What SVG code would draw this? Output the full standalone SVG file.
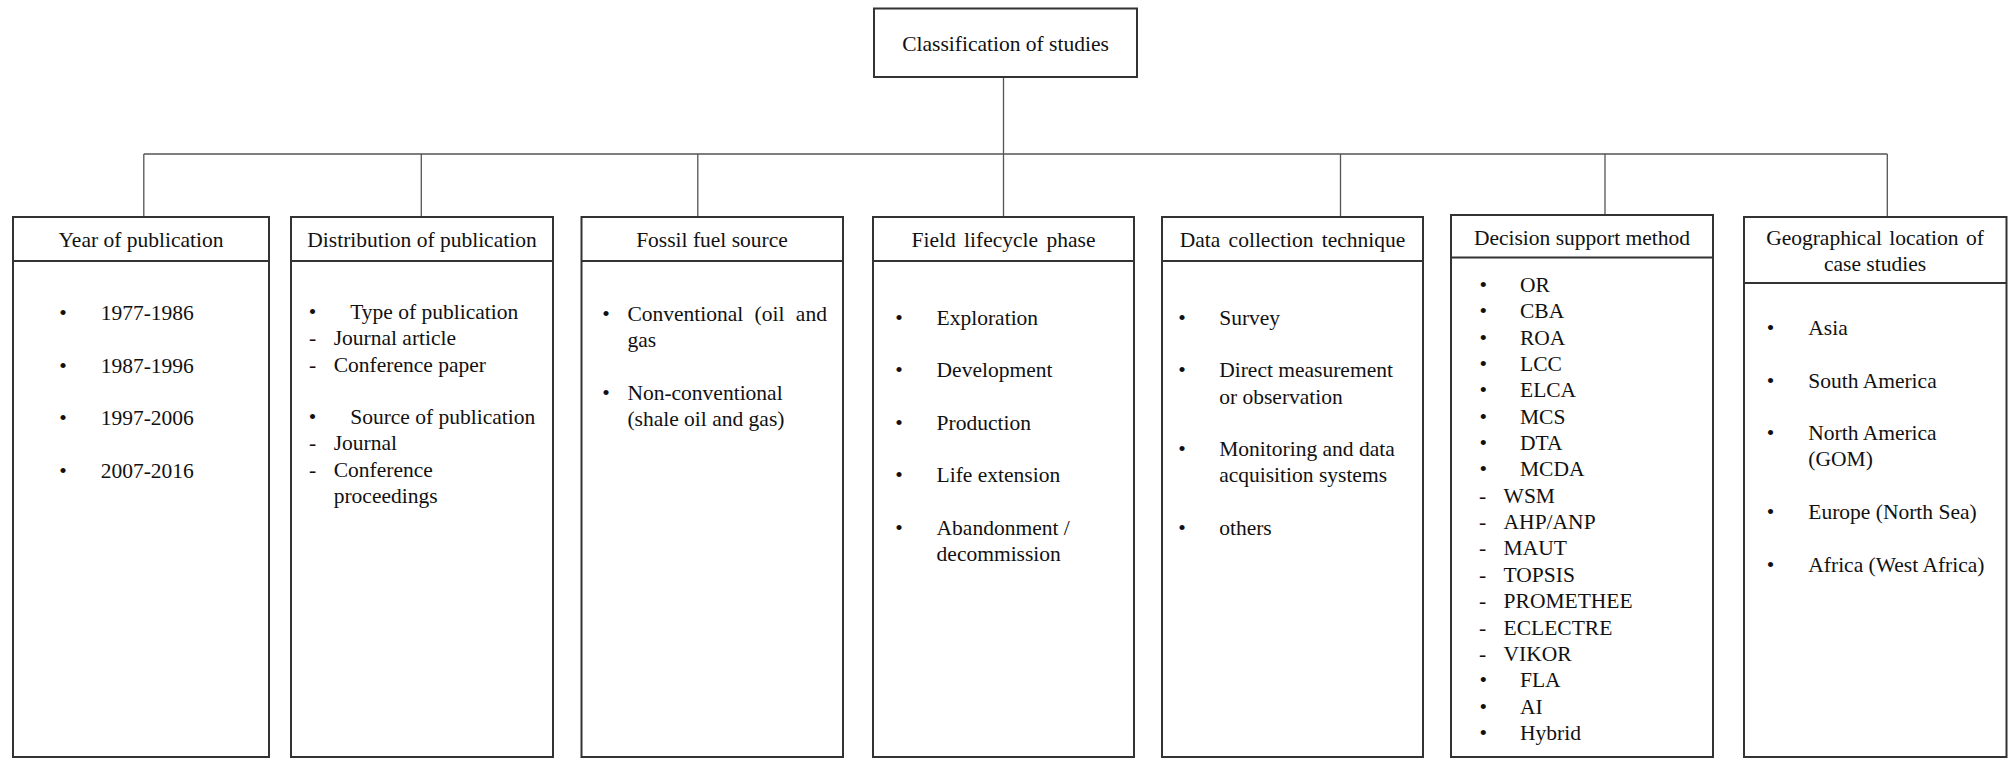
<svg xmlns="http://www.w3.org/2000/svg" width="2013" height="758" viewBox="0 0 2013 758">
<style>
.box{fill:#fff;stroke:#333;stroke-width:2}
.hl{stroke:#333;stroke-width:2}
.conn{stroke:#555;stroke-width:1.3;fill:none}
text{font-family:"Liberation Serif","Times New Roman",serif;font-size:21.5px;fill:#111}
.h{text-anchor:middle}
.b{text-anchor:middle}
</style>
<rect width="2013" height="758" fill="#fff"/>
<g id="connectors">
<path class="conn" d="M1003.5 77V217M143.8 154H1887.3M143.8 154V217M421.3 154V217M697.8 154V217M1340.5 154V217M1605 154V215M1887.3 154V217"/>
</g>
<g id="root">
<rect class="box" x="874" y="8.5" width="263" height="68.5"/>
<text class="h" x="1005.5" y="51">Classification  of studies</text>
</g>
<g id="year">
<rect class="box" x="13" y="217" width="256" height="540"/>
<line class="hl" x1="13" y1="261" x2="269" y2="261"/>
<text class="h" x="141" y="247">Year of publication</text>
<text class="b" x="63" y="320">•</text><text x="100.7" y="320">1977-1986</text>
<text class="b" x="63" y="372.6">•</text><text x="100.7" y="372.6">1987-1996</text>
<text class="b" x="63" y="425.3">•</text><text x="100.7" y="425.3">1997-2006</text>
<text class="b" x="63" y="477.8">•</text><text x="100.7" y="477.8">2007-2016</text>
</g>
<g id="distribution">
<rect class="box" x="291" y="217" width="262" height="540"/>
<line class="hl" x1="291" y1="261" x2="553" y2="261"/>
<text class="h" x="422" y="247">Distribution of publication</text>
<text class="b" x="312.5" y="318.5">•</text><text x="350.2" y="318.5">Type of publication</text>
<text class="b" x="312.5" y="344.8">-</text><text x="333.7" y="344.8">Journal article</text>
<text class="b" x="312.5" y="371.6">-</text><text x="333.7" y="371.6">Conference paper</text>
<text class="b" x="312.5" y="424.2">•</text><text x="350.2" y="424.2">Source of publication</text>
<text class="b" x="312.5" y="450.4">-</text><text x="333.7" y="450.4">Journal</text>
<text class="b" x="312.5" y="476.9">-</text><text x="333.7" y="476.9">Conference</text>
<text x="333.7" y="502.6">proceedings</text>
</g>
<g id="fossil">
<rect class="box" x="581.5" y="217" width="261.5" height="540"/>
<line class="hl" x1="581.5" y1="261" x2="843" y2="261"/>
<text class="h" x="712" y="247">Fossil fuel source</text>
<text class="b" x="606" y="321">•</text><text x="627.4" y="321" word-spacing="6">Conventional (oil and</text>
<text x="627.4" y="346.6">gas</text>
<text class="b" x="606" y="400">•</text><text x="627.4" y="400">Non-conventional</text>
<text x="627.4" y="426">(shale oil and gas)</text>
</g>
<g id="field">
<rect class="box" x="873" y="217" width="261" height="540"/>
<line class="hl" x1="873" y1="261" x2="1134" y2="261"/>
<text class="h" x="1003.5" y="247" word-spacing="3">Field lifecycle phase</text>
<text class="b" x="899" y="324.6">•</text><text x="936.6" y="324.6">Exploration</text>
<text class="b" x="899" y="376.9">•</text><text x="936.6" y="376.9">Development</text>
<text class="b" x="899" y="429.5">•</text><text x="936.6" y="429.5">Production</text>
<text class="b" x="899" y="482.2">•</text><text x="936.6" y="482.2">Life extension</text>
<text class="b" x="899" y="534.5">•</text><text x="936.6" y="534.5">Abandonment /</text>
<text x="936.6" y="560.5">decommission</text>
</g>
<g id="data">
<rect class="box" x="1162" y="217" width="261" height="540"/>
<line class="hl" x1="1162" y1="261" x2="1423" y2="261"/>
<text class="h" x="1292.5" y="247" word-spacing="3">Data collection technique</text>
<text class="b" x="1182" y="324.6">•</text><text x="1219.2" y="324.6">Survey</text>
<text class="b" x="1182" y="376.9">•</text><text x="1219.2" y="376.9">Direct measurement</text>
<text x="1219.2" y="403.6">or observation</text>
<text class="b" x="1182" y="456.2">•</text><text x="1219.2" y="456.2">Monitoring and data</text>
<text x="1219.2" y="482.2">acquisition systems</text>
<text class="b" x="1182" y="534.5">•</text><text x="1219.2" y="534.5">others</text>
</g>
<g id="decision">
<rect class="box" x="1451" y="215" width="262" height="542"/>
<line class="hl" x1="1451" y1="257.5" x2="1713" y2="257.5"/>
<text class="h" x="1582" y="244.5">Decision support method</text>
<text class="b" x="1483.3" y="291.8">•</text><text x="1520" y="291.8">OR</text>
<text class="b" x="1483.3" y="318.2">•</text><text x="1520" y="318.2">CBA</text>
<text class="b" x="1483.3" y="344.6">•</text><text x="1520" y="344.6">ROA</text>
<text class="b" x="1483.3" y="370.9">•</text><text x="1520" y="370.9">LCC</text>
<text class="b" x="1483.3" y="397.3">•</text><text x="1520" y="397.3">ELCA</text>
<text class="b" x="1483.3" y="423.6">•</text><text x="1520" y="423.6">MCS</text>
<text class="b" x="1483.3" y="450">•</text><text x="1520" y="450">DTA</text>
<text class="b" x="1483.3" y="476.4">•</text><text x="1520" y="476.4">MCDA</text>
<text class="b" x="1482.5" y="502.7">-</text><text x="1503.6" y="502.7">WSM</text>
<text class="b" x="1482.5" y="529.1">-</text><text x="1503.6" y="529.1">AHP/ANP</text>
<text class="b" x="1482.5" y="555.4">-</text><text x="1503.6" y="555.4">MAUT</text>
<text class="b" x="1482.5" y="581.8">-</text><text x="1503.6" y="581.8">TOPSIS</text>
<text class="b" x="1482.5" y="608.2">-</text><text x="1503.6" y="608.2">PROMETHEE</text>
<text class="b" x="1482.5" y="634.5">-</text><text x="1503.6" y="634.5">ECLECTRE</text>
<text class="b" x="1482.5" y="660.9">-</text><text x="1503.6" y="660.9">VIKOR</text>
<text class="b" x="1483.3" y="687.2">•</text><text x="1520" y="687.2">FLA</text>
<text class="b" x="1483.3" y="713.6">•</text><text x="1520" y="713.6">AI</text>
<text class="b" x="1483.3" y="740">•</text><text x="1520" y="740">Hybrid</text>
</g>
<g id="geo">
<rect class="box" x="1744" y="217" width="262.5" height="540"/>
<line class="hl" x1="1744" y1="283" x2="2006.5" y2="283"/>
<text class="h" x="1875" y="244.5" word-spacing="2">Geographical location of</text>
<text class="h" x="1875" y="270.5">case studies</text>
<text class="b" x="1770.5" y="335">•</text><text x="1808.3" y="335">Asia</text>
<text class="b" x="1770.5" y="387.9">•</text><text x="1808.3" y="387.9">South America</text>
<text class="b" x="1770.5" y="440.2">•</text><text x="1808.3" y="440.2">North America</text>
<text x="1808.3" y="466.2">(GOM)</text>
<text class="b" x="1770.5" y="519.2">•</text><text x="1808.3" y="519.2">Europe (North Sea)</text>
<text class="b" x="1770.5" y="571.9">•</text><text x="1808.3" y="571.9">Africa (West Africa)</text>
</g>
</svg>
